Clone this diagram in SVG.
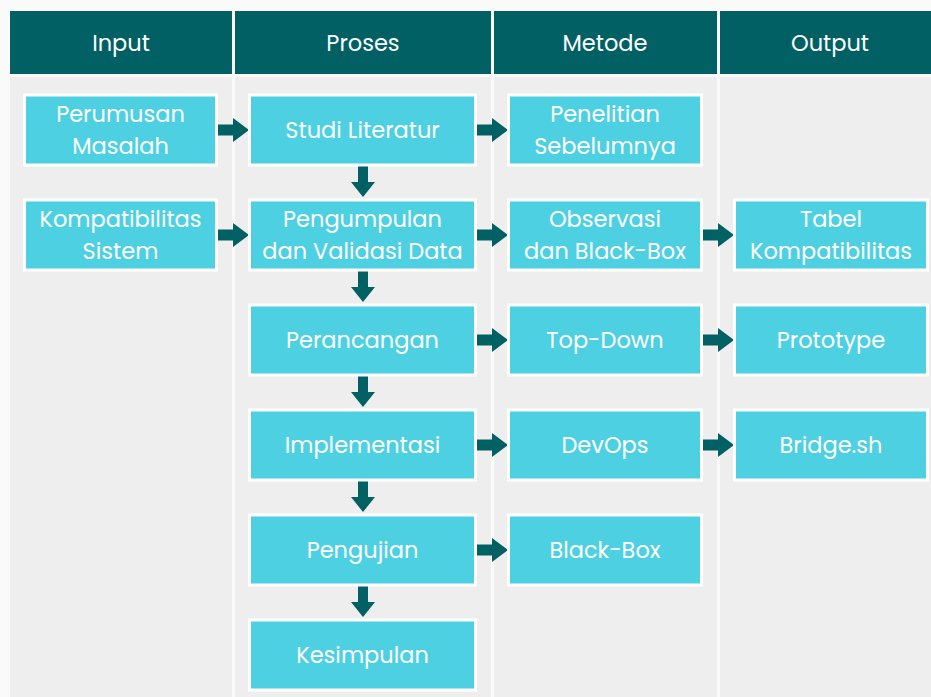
<svg xmlns="http://www.w3.org/2000/svg" width="931" height="697" viewBox="0 0 931 697">
<style>
.bg{fill:#eeeeee}
.hd{fill:#006064}
.ht{fill:#ffffff;font-family:"Poppins","Open Sans","DejaVu Sans",sans-serif;font-size:22.5px;text-anchor:middle;dominant-baseline:central}
.nd{fill:#4dd0e1;stroke:#ffffff;stroke-width:3}
.nt{fill:#ffffff;font-family:"Poppins","Open Sans","DejaVu Sans",sans-serif;font-size:22.5px;text-anchor:middle;dominant-baseline:central}
.ar{fill:#006064}
</style>
<defs>
<path id="ah" d="M0,-5.5 H15 V-12 L31,0 L15,12 V5.5 H0 Z"/>
<path id="av" d="M-5,0 V16 H-12 L0,31 L12,16 H5 V0 Z"/>
</defs>
<rect x="0" y="0" width="931" height="697" fill="#fafafa"/>
<g id="lanes">
<rect class="hd" x="10" y="11" width="222" height="63"/>
<rect class="hd" x="235" y="11" width="256" height="63"/>
<rect class="hd" x="494" y="11" width="223" height="63"/>
<rect class="hd" x="720" y="11" width="211" height="63"/>
<rect class="bg" x="10" y="77" width="222" height="620"/>
<rect class="bg" x="235" y="77" width="256" height="620"/>
<rect class="bg" x="494" y="77" width="223" height="620"/>
<rect class="bg" x="720" y="77" width="211" height="620"/>
<text class="ht" x="121" y="43">Input</text>
<text class="ht" x="363" y="43">Proses</text>
<text class="ht" x="605" y="43">Metode</text>
<text class="ht" x="830" y="43">Output</text>
</g>
<g id="connectors" class="ar">
<use href="#ah" x="218" y="130"/>
<use href="#ah" x="218" y="235"/>
<use href="#ah" x="477" y="130"/>
<use href="#ah" x="477" y="235"/>
<use href="#ah" x="477" y="340"/>
<use href="#ah" x="477" y="445"/>
<use href="#ah" x="477" y="550"/>
<use href="#ah" x="703" y="235"/>
<use href="#ah" x="703" y="340"/>
<use href="#ah" x="703" y="445"/>
<use href="#av" x="363" y="166"/>
<use href="#av" x="363" y="271"/>
<use href="#av" x="363" y="376"/>
<use href="#av" x="363" y="481"/>
<use href="#av" x="363" y="586"/>
</g>
<g id="perumusan"><rect class="nd" x="24.5" y="95" width="192" height="70"/><text class="nt" x="120.5" y="114">Perumusan</text><text class="nt" x="120.5" y="146">Masalah</text></g>
<g id="kompatibilitas"><rect class="nd" x="24.5" y="200" width="192" height="70"/><text class="nt" x="120.5" y="219">Kompatibilitas</text><text class="nt" x="120.5" y="251">Sistem</text></g>
<g id="studi"><rect class="nd" x="249.5" y="95" width="226" height="70"/><text class="nt" x="362.5" y="130">Studi Literatur</text></g>
<g id="pengumpulan"><rect class="nd" x="249.5" y="200" width="226" height="70"/><text class="nt" x="362.5" y="219">Pengumpulan</text><text class="nt" x="362.5" y="251">dan Validasi Data</text></g>
<g id="perancangan"><rect class="nd" x="249.5" y="305" width="226" height="70"/><text class="nt" x="362.5" y="340">Perancangan</text></g>
<g id="implementasi"><rect class="nd" x="249.5" y="410" width="226" height="70"/><text class="nt" x="362.5" y="445">Implementasi</text></g>
<g id="pengujian"><rect class="nd" x="249.5" y="515" width="226" height="70"/><text class="nt" x="362.5" y="550">Pengujian</text></g>
<g id="kesimpulan"><rect class="nd" x="249.5" y="620" width="226" height="70"/><text class="nt" x="362.5" y="655">Kesimpulan</text></g>
<g id="penelitian"><rect class="nd" x="508.5" y="95" width="193" height="70"/><text class="nt" x="605" y="114">Penelitian</text><text class="nt" x="605" y="146">Sebelumnya</text></g>
<g id="observasi"><rect class="nd" x="508.5" y="200" width="193" height="70"/><text class="nt" x="605" y="219">Observasi</text><text class="nt" x="605" y="251">dan Black-Box</text></g>
<g id="topdown"><rect class="nd" x="508.5" y="305" width="193" height="70"/><text class="nt" x="605" y="340">Top-Down</text></g>
<g id="devops"><rect class="nd" x="508.5" y="410" width="193" height="70"/><text class="nt" x="605" y="445">DevOps</text></g>
<g id="blackbox"><rect class="nd" x="508.5" y="515" width="193" height="70"/><text class="nt" x="605" y="550">Black-Box</text></g>
<g id="tabel"><rect class="nd" x="734.5" y="200" width="193" height="70"/><text class="nt" x="831" y="219">Tabel</text><text class="nt" x="831" y="251">Kompatibilitas</text></g>
<g id="prototype"><rect class="nd" x="734.5" y="305" width="193" height="70"/><text class="nt" x="831" y="340">Prototype</text></g>
<g id="bridge"><rect class="nd" x="734.5" y="410" width="193" height="70"/><text class="nt" x="831" y="445">Bridge.sh</text></g>
</svg>
